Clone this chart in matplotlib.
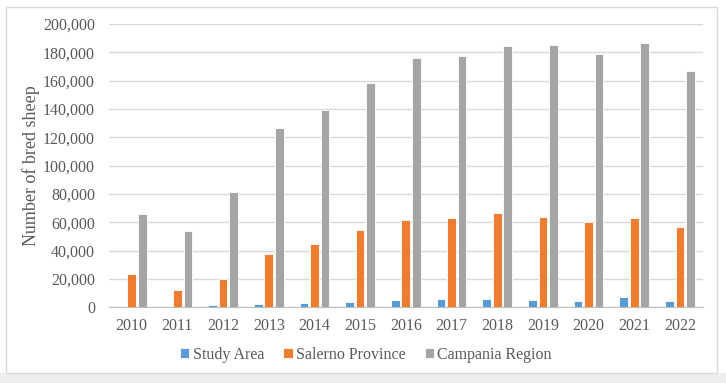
import matplotlib
matplotlib.use("Agg")
import matplotlib.pyplot as plt
from matplotlib.patches import Rectangle
from matplotlib.ticker import FuncFormatter
import numpy as np

years = ["2010", "2011", "2012", "2013", "2014", "2015", "2016",
         "2017", "2018", "2019", "2020", "2021", "2022"]
study_area = [0, 0, 1200, 1900, 2800, 3800, 5200, 5600, 5600, 5200, 4700, 7100, 4700]
salerno = [23600, 11800, 20100, 37500, 44800, 54300, 61300, 63200, 66500, 63700, 60100, 63200, 56400]
campania = [65600, 53800, 81600, 126400, 139400, 158400, 176400, 177500, 184400, 185000, 179000, 187000, 166700]

series = [
    ("Study Area", study_area, "#5b9bd5"),
    ("Salerno Province", salerno, "#ed7d31"),
    ("Campania Region", campania, "#a5a5a5"),
]

plt.rcParams["font.family"] = ["Liberation Serif", "DejaVu Serif"]
TXT = "#595959"

fig = plt.figure(figsize=(7.26, 3.83), dpi=100)
# light gray strip under the chart frame, then the frame itself
fig.patches.append(Rectangle((0, 0), 1, 0.026, transform=fig.transFigure,
                             facecolor="#eeeeee", edgecolor="none"))
fig.patches.append(Rectangle((0.008, 0.026), 0.980, 0.956, transform=fig.transFigure,
                             fill=False, edgecolor="#d9d9d9", linewidth=1))
ax = fig.add_axes([0.150, 0.198, 0.818, 0.739])

x = np.arange(len(years))
step = 0.23
width = 0.19
for i, (name, vals, color) in enumerate(series):
    ax.bar(x + (i - 1) * step, vals, width, color=color, label=name,
           edgecolor="white", linewidth=0.6, zorder=3)

ax.set_xlim(-0.5, len(years) - 0.5)
ax.set_ylim(0, 200000)
ax.set_yticks(np.arange(0, 200001, 20000))
ax.yaxis.set_major_formatter(FuncFormatter(lambda v, p: f"{int(v):,}"))
ax.set_xticks(x)
ax.set_xticklabels(years)
ax.grid(axis="y", color="#d9d9d9", linewidth=1, zorder=0)
for s in ["top", "right", "left"]:
    ax.spines[s].set_visible(False)
ax.spines["bottom"].set_color("#bfbfbf")
ax.tick_params(axis="both", length=0, labelsize=11.5, colors=TXT)
ax.tick_params(axis="x", pad=8)
ax.tick_params(axis="y", pad=10)
ax.set_ylabel("Number of bred sheep", fontsize=13, color=TXT, labelpad=2)

leg = fig.legend(loc="center", bbox_to_anchor=(0.504, 0.073), ncol=3, frameon=False,
                 fontsize=11.5, handlelength=0.6, handleheight=0.6, handletextpad=0.2,
                 columnspacing=1.2)
for t in leg.get_texts():
    t.set_color(TXT)

fig.savefig("out.png", dpi=100)
